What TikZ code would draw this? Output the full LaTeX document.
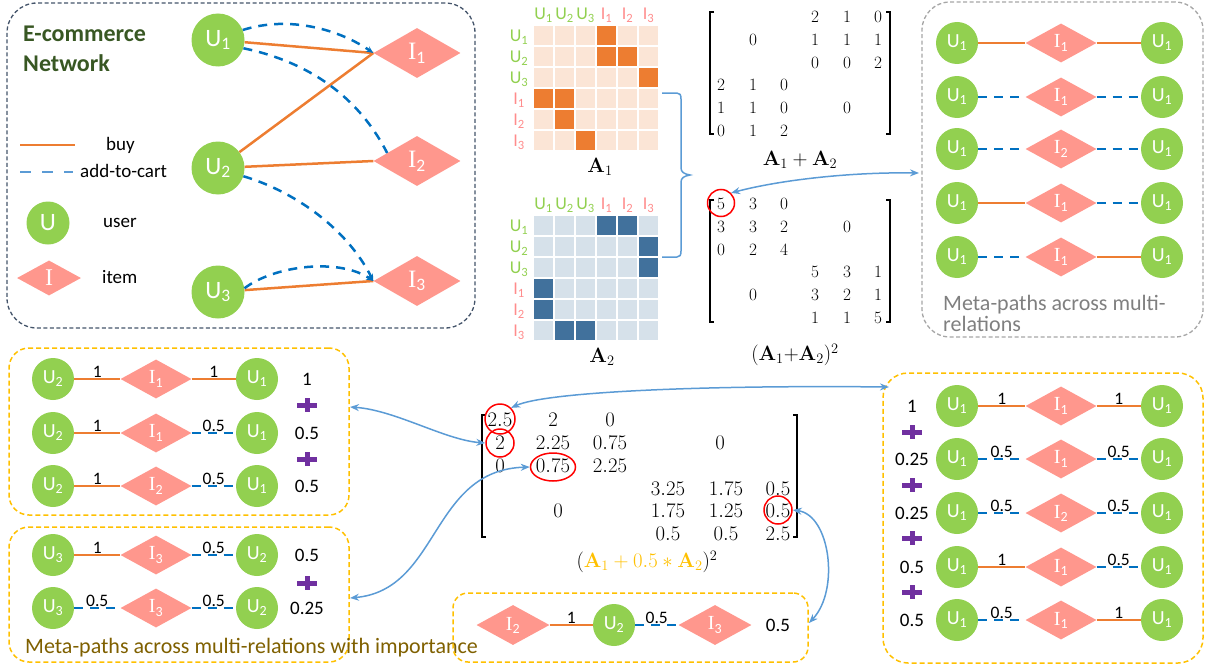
\documentclass[tikz,border=0pt]{standalone}
\usepackage[no-math]{fontspec}
\setmainfont{Carlito}
\newfontfamily\serifI{Liberation Serif}
\usetikzlibrary{shapes.geometric,arrows.meta}
\definecolor{ugreen}{HTML}{92D050}
\definecolor{ipink}{HTML}{FF978D}
\definecolor{buyor}{HTML}{ED7D31}
\definecolor{cartblue}{HTML}{0070C0}
\definecolor{arrblue}{HTML}{5B9BD5}
\definecolor{goldc}{HTML}{FFC000}
\definecolor{boxgray}{HTML}{A6A6A6}
\definecolor{txtgray}{HTML}{7F7F7F}
\definecolor{darkbox}{HTML}{44546A}
\definecolor{titlegreen}{HTML}{385723}
\definecolor{olivetxt}{HTML}{7F6000}
\definecolor{plusc}{HTML}{7030A0}
\definecolor{aonel}{HTML}{FBE5D6}
\definecolor{aoned}{HTML}{ED7D31}
\definecolor{atwol}{HTML}{D6E1EA}
\definecolor{atwod}{HTML}{41719C}
\definecolor{hdrpink}{HTML}{FF8C8C}
\newcommand\Ulab[1]{U\textsubscript{#1}}
\newcommand\Ilab[1]{{\serifI I}\textsubscript{#1}}
\newcommand\plusmark[2]{\draw[plusc, line width=5pt] (#1-10,#2) -- (#1+10,#2) (#1,#2-7) -- (#1,#2+7);}
\newcommand\lbrk[3]{\draw[line width=1.2pt] (#1+4,#2) -- (#1,#2) -- (#1,#3) -- (#1+4,#3);}
\newcommand\rbrk[3]{\draw[line width=1.2pt] (#1-4,#2) -- (#1,#2) -- (#1,#3) -- (#1-4,#3);}
\begin{document}
\begin{tikzpicture}[x=1pt,y=-1pt,
  unode/.style={circle, fill=ugreen, text=white, inner sep=0pt, minimum size=42pt, font=\fontsize{20}{20}\selectfont},
  inode/.style={diamond, fill=ipink, text=white, inner sep=0pt, minimum width=71pt, minimum height=39pt, font=\fontsize{20}{20}\selectfont},
  bigu/.style={unode, minimum size=53pt, font=\fontsize{25}{25}\selectfont},
  bigi/.style={inode, minimum width=87pt, minimum height=50pt, font=\fontsize{25}{25}\selectfont},
  buyline/.style={draw=buyor, line width=2.5pt},
  cartline/.style={draw=cartblue, line width=2.5pt, dash pattern=on 9pt off 7pt},
  elab/.style={midway, above, inner sep=0.5pt, font=\fontsize{17.5}{17.5}\selectfont},
  vlab/.style={inner sep=0pt, font=\fontsize{19}{19}\selectfont},
  legtxt/.style={anchor=west, inner sep=0pt, font=\fontsize{19}{19}\selectfont},
  mnum/.style={inner sep=0pt, font=\fontsize{18}{18}\selectfont},
  bnum/.style={inner sep=0pt, font=\fontsize{20}{20}\selectfont},
  hdr/.style={inner sep=0pt, font=\fontsize{18}{18}\selectfont},
  redc/.style={circle, draw=red, line width=1.5pt, inner sep=0pt},
  goldbox/.style={draw=goldc, line width=1.5pt, dash pattern=on 5pt off 3pt, rounded corners=20pt, inner sep=0pt},
  biarrow/.style={draw=arrblue, line width=1.5pt, {Stealth[length=9pt,width=7pt]}-{Stealth[length=9pt,width=7pt]}},
  cartarrow/.style={cartline, -{Stealth[length=7pt,width=6pt]}}
]
\useasboundingbox (0,0) rectangle (1206,669);

% ---------------- E-commerce network ----------------
\node[draw=darkbox, line width=1.3pt, dash pattern=on 4pt off 2.5pt, rounded corners=30pt,
      minimum width=468pt, minimum height=325pt, inner sep=0pt] (ecbox) at (241,165.5) {};
\node[anchor=north west, align=left, inner sep=0pt, text=titlegreen,
      font=\bfseries\fontsize{24}{30}\selectfont] (title) at (23,26) {E-commerce\\Network};
\node[bigu] (eu1) at (218,40) {\Ulab{1}};
\node[bigu] (eu2) at (218,168) {\Ulab{2}};
\node[bigu] (eu3) at (218,292) {\Ulab{3}};
\node[bigi] (ei1) at (417,53) {\Ilab{1}};
\node[bigi] (ei2) at (417,161) {\Ilab{2}};
\node[bigi] (ei3) at (417,281) {\Ilab{3}};
\draw[buyline] (eu1) -- (ei1.west);
\draw[buyline] (eu2) -- (ei1.west);
\draw[buyline] (eu2) -- (ei2.west);
\draw[buyline] (eu3) -- (ei3.west);
\draw[cartarrow] (eu1.22) .. controls (290,15) and (340,30) .. (ei1.west);
\draw[cartline] (eu1.-18) .. controls (300,60) and (355,90) .. (ei2.165);
\draw[cartarrow] (eu2.-18) .. controls (290,190) and (345,225) .. (ei3.west);
\draw[cartarrow] (eu3.8) .. controls (275,265) and (340,258) .. (ei3.west);
% legend
\coordinate (lb1) at (20,145); \coordinate (lb2) at (75,145);
\draw[buyline] (lb1) -- (lb2);
\node[legtxt] (lbuy) at (106,145) {buy};
\coordinate (lc1) at (20,172); \coordinate (lc2) at (73,172);
\draw[draw=arrblue, line width=2.5pt, dash pattern=on 11pt off 11pt] (lc1) -- (lc2);
\node[legtxt] (lcart) at (80,171) {add-to-cart};
\node[unode, minimum size=43pt, font=\fontsize{25}{25}\selectfont] (lu) at (48,223) {U};
\node[legtxt] (luser) at (103,223) {user};
\node[inode, minimum width=64pt, minimum height=35pt, font=\fontsize{24}{24}\selectfont] (li) at (49,278) {{\serifI I}};
\node[legtxt] (litem) at (102,277) {item};

% ---------------- adjacency heat maps ----------------
\foreach \r in {1,...,6}{
  \foreach \c in {1,...,6}{
    \fill[aonel] (533+21*\c-20,25+21*\r-20) rectangle +(19,19);
    \fill[atwol] (533+21*\c-20,215+21*\r-20) rectangle +(19,19);
  }
}
\foreach \r/\c in {1/4,2/4,2/5,3/6,4/1,4/2,5/2,6/3}
  \fill[aoned] (533+21*\c-20,25+21*\r-20) rectangle +(19,19);
\foreach \r/\c in {1/4,1/5,2/6,3/6,4/1,5/1,6/2,6/3}
  \fill[atwod] (533+21*\c-20,215+21*\r-20) rectangle +(19,19);
\foreach \i/\t/\col in {1/\Ulab{1}/ugreen,2/\Ulab{2}/ugreen,3/\Ulab{3}/ugreen,4/\Ilab{1}/hdrpink,5/\Ilab{2}/hdrpink,6/\Ilab{3}/hdrpink}{
  \node[hdr, text=\col] (aoh\i) at (522.5+21*\i,15) {\ifnum\i>3 I\textsubscript{\the\numexpr\i-3\relax}\else\t\fi};
  \node[hdr, text=\col] (aor\i) at (519,37+21*\i-21) {\ifnum\i>3 I\textsubscript{\the\numexpr\i-3\relax}\else\t\fi};
  \node[hdr, text=\col] (ath\i) at (522.5+21*\i,205) {\ifnum\i>3 I\textsubscript{\the\numexpr\i-3\relax}\else\t\fi};
  \node[hdr, text=\col] (atr\i) at (519,227+21*\i-21) {\ifnum\i>3 I\textsubscript{\the\numexpr\i-3\relax}\else\t\fi};
}
\node[inner sep=0pt, font=\fontsize{22}{22}\selectfont] (a1lab) at (600,167) {$\mathbf{A}_1$};
\node[inner sep=0pt, font=\fontsize{22}{22}\selectfont] (a2lab) at (602,357) {$\mathbf{A}_2$};
% brace
\draw[arrblue, line width=1.5pt] (662,93) -- (677,93) .. controls (680,93) and (681,95) .. (681,99) -- (681,168)
  .. controls (681,172) and (684,174) .. (690,175) .. controls (684,176) and (681,178) .. (681,182) -- (681,251)
  .. controls (681,255) and (680,257) .. (677,257) -- (662,257);

% ---------------- A1 + A2 ----------------
\lbrk{710}{12}{134} \rbrk{890}{12}{134}
\foreach \c/\r/\v in {4/1/2,5/1/1,6/1/0,2/2/0,4/2/1,5/2/1,6/2/1,4/3/0,5/3/0,6/3/2,1/4/2,2/4/1,3/4/0,1/5/1,2/5/1,3/5/0,5/5/0,1/6/0,2/6/1,3/6/2}{
  \pgfmathsetmacro\xx{{0,721,753,784,815,847,878}[\c]}
  \node[mnum] (ma\c\r) at (\xx,17+22.8*\r-22.8) {$\v$};
}
\node[inner sep=0pt, font=\fontsize{20}{20}\selectfont] (m1lab) at (800,160) {$\mathbf{A}_1+\mathbf{A}_2$};

% ---------------- (A1 + A2)^2 ----------------
\lbrk{710}{200}{322} \rbrk{890}{200}{322}
\foreach \c/\r/\v in {1/1/5,2/1/3,3/1/0,1/2/3,2/2/3,3/2/2,5/2/0,1/3/0,2/3/2,3/3/4,4/4/5,5/4/3,6/4/1,2/5/0,4/5/3,5/5/2,6/5/1,4/6/1,5/6/1,6/6/5}{
  \pgfmathsetmacro\xx{{0,721,753,784,815,847,878}[\c]}
  \node[mnum] (mb\c\r) at (\xx,204+22.8*\r-22.8) {$\v$};
}
\node[inner sep=0pt, font=\fontsize{20}{20}\selectfont] (m2lab) at (795,355) {$(\mathbf{A}_1{+}\mathbf{A}_2)^2$};
\node[redc, minimum size=27pt] (c5) at (721,203) {};

% ---------------- (A1 + 0.5 A2)^2 ----------------
\lbrk{482}{415}{537} \rbrk{797}{415}{537}
\foreach \c/\r/\v in {1/1/2.5,2/1/2,3/1/0,1/2/2,2/2/2.25,3/2/0.75,1/3/0,2/3/0.75,3/3/2.25,4/4/3.25,5/4/1.75,6/4/0.5,4/5/1.75,5/5/1.25,6/5/0.5,4/6/0.5,5/6/0.5,6/6/2.5}{
  \pgfmathsetmacro\xx{{0,500,553,610,668,726,778}[\c]}
  \node[bnum] (mc\c\r) at (\xx,420+22.8*\r-22.8) {$\v$};
}
\node[bnum] (mcz1) at (720,443) {$0$};
\node[bnum] (mcz2) at (558,511) {$0$};
\node[inner sep=0pt, font=\fontsize{20}{20}\selectfont] (m3lab) at (647,562)
  {$(\textcolor{goldc}{\mathbf{A}_1+0.5\ast\mathbf{A}_2})^2$};
\node[redc, minimum size=30pt] (c25) at (500,419) {};
\node[redc, minimum size=28pt] (c2) at (500,443) {};
\node[redc, ellipse, minimum width=45pt, minimum height=28pt] (c075) at (553,467) {};
\node[redc, minimum size=28pt] (c05) at (778,510) {};

% ---------------- meta-paths across multi-relations ----------------
\node[draw=boxgray, line width=1.3pt, dash pattern=on 4pt off 2.5pt, rounded corners=28pt,
      minimum width=281pt, minimum height=335pt, inner sep=0pt] (gbox) at (1062.5,169.5) {};
\foreach \k/\y/\il/\ls/\rs in {1/43/1/buyline/buyline,2/97/1/cartline/cartline,3/149/2/cartline/cartline,4/203/1/buyline/cartline,5/257/1/cartline/buyline}{
  \node[unode] (gA\k) at (957,\y) {\Ulab{1}};
  \node[inode] (gB\k) at (1061,\y) {\Ilab{\il}};
  \node[unode] (gC\k) at (1162,\y) {\Ulab{1}};
  \draw[\ls] (gA\k) -- (gB\k.west);
  \draw[\rs] (gB\k.east) -- (gC\k);
}
\node[anchor=west, align=left, inner sep=0pt, text=txtgray, font=\fontsize{22}{21}\selectfont] (gtxt) at (943,313)
  {Meta-paths across multi-\\relations};

% ---------------- right weighted box ----------------
\node[goldbox, rounded corners=25pt, minimum width=320pt, minimum height=290pt] (b4) at (1043,518) {};
\foreach \k/\y/\il/\ls/\ll/\rs/\rl/\v in {1/406/1/buyline/1/buyline/1/1,2/459/1/cartline/0.5/cartline/0.5/0.25,3/513/2/cartline/0.5/cartline/0.5/0.25,4/567/1/buyline/1/cartline/0.5/0.5,5/620/1/cartline/0.5/buyline/1/0.5}{
  \node[unode] (rA\k) at (957,\y) {\Ulab{1}};
  \node[inode] (rB\k) at (1061,\y) {\Ilab{\il}};
  \node[unode] (rC\k) at (1162,\y) {\Ulab{1}};
  \draw[\ls] (rA\k) -- node[elab] {\ll} (rB\k.west);
  \draw[\rs] (rB\k.east) -- node[elab] {\rl} (rC\k);
  \node[vlab] (rV\k) at (912,\y) {\v};
}
\plusmark{912}{432} \plusmark{912}{485} \plusmark{912}{538} \plusmark{912}{592}

% ---------------- left weighted boxes ----------------
\node[goldbox, minimum width=340pt, minimum height=167pt] (b1) at (179,431.5) {};
\foreach \k/\y/\il/\ls/\ll/\rs/\rl/\v in {1/379/1/buyline/1/buyline/1/1,2/433/1/buyline/1/cartline/0.5/0.5,3/486/2/buyline/1/cartline/0.5/0.5}{
  \node[unode] (pA\k) at (53,\y) {\Ulab{2}};
  \node[inode] (pB\k) at (156,\y) {\Ilab{\il}};
  \node[unode] (pC\k) at (257,\y) {\Ulab{1}};
  \draw[\ls] (pA\k) -- node[elab] {\ll} (pB\k.west);
  \draw[\rs] (pB\k.east) -- node[elab] {\rl} (pC\k);
  \node[vlab] (pV\k) at (307,\y) {\v};
}
\plusmark{307}{405} \plusmark{307}{459}

\node[goldbox, minimum width=340pt, minimum height=135pt] (b2) at (179,594.5) {};
\foreach \k/\y/\ls/\ll/\rs/\rl/\v in {1/555/buyline/1/cartline/0.5/0.5,2/608/cartline/0.5/cartline/0.5/0.25}{
  \node[unode] (qA\k) at (53,\y) {\Ulab{3}};
  \node[inode] (qB\k) at (156,\y) {\Ilab{3}};
  \node[unode] (qC\k) at (257,\y) {\Ulab{2}};
  \draw[\ls] (qA\k) -- node[elab] {\ll} (qB\k.west);
  \draw[\rs] (qB\k.east) -- node[elab] {\rl} (qC\k);
  \node[vlab] (qV\k) at (307,\y) {\v};
}
\plusmark{307}{583}
\node[anchor=west, inner sep=0pt, text=olivetxt, font=\fontsize{22}{22}\selectfont] (bltxt) at (25,648)
  {Meta-paths across multi-relations with importance};

% ---------------- bottom middle box ----------------
\node[goldbox, rounded corners=15pt, minimum width=355pt, minimum height=69pt] (b3) at (630.5,627.5) {};
\node[inode, minimum width=73pt, minimum height=40pt] (sI2) at (513,625) {\Ilab{2}};
\node[unode] (sU2) at (614,625) {\Ulab{2}};
\node[inode, minimum width=73pt, minimum height=40pt] (sI3) at (715,625) {\Ilab{3}};
\draw[buyline] (sI2.east) -- node[elab] {1} (sU2);
\draw[cartline] (sU2) -- node[elab] {0.5} (sI3.west);
\node[vlab] (sV) at (778,625) {0.5};

% ---------------- connecting arrows ----------------
\coordinate (gin) at (919,173);
\coordinate (b4in) at (889,387);
\coordinate (b1r) at (350,407);
\coordinate (b2r) at (350,598);
\coordinate (b3r) at (809,623);
\draw[biarrow] (c5.north east) .. controls (780,180) and (850,172) .. (gin);
\draw[biarrow] (c25.north east) .. controls (545,392) and (700,385) .. (b4in);
\draw[biarrow] (b1r) .. controls (395,410) and (445,440) .. (c2.west);
\draw[biarrow] (b2r) .. controls (440,590) and (430,470) .. (c075.west);
\draw[biarrow] (c05.east) .. controls (830,515) and (840,590) .. (b3r);
\end{tikzpicture}
\end{document}
